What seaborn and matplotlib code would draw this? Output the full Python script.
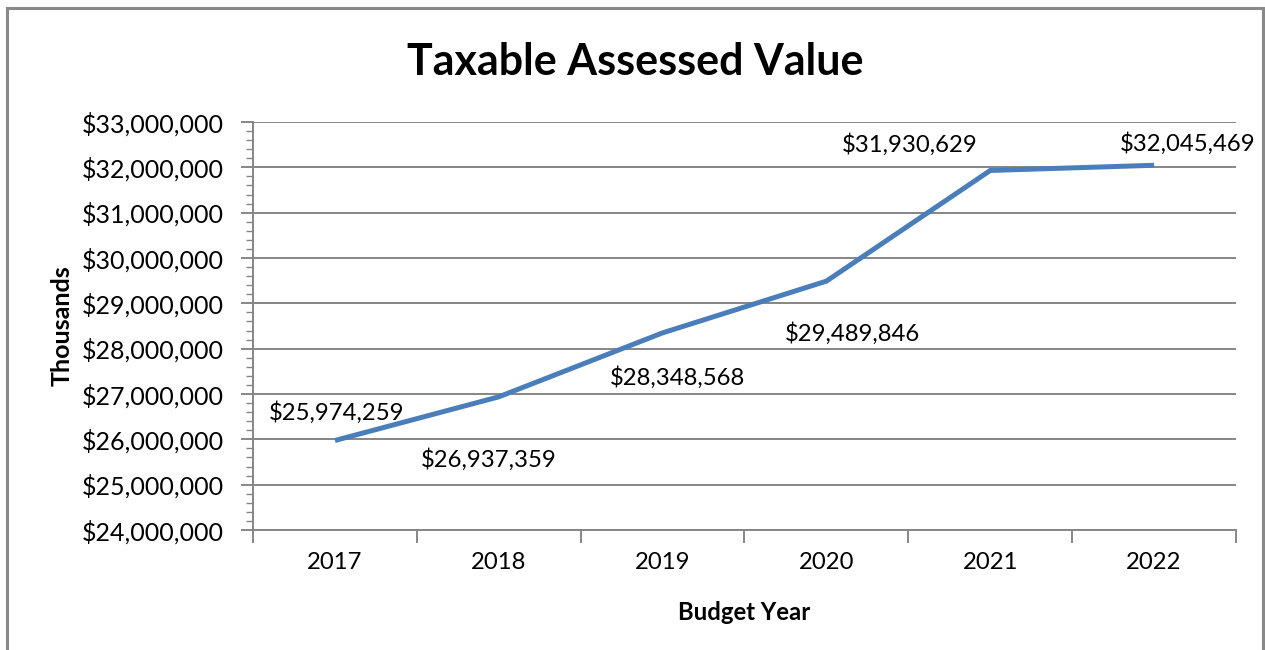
import matplotlib
matplotlib.use("Agg")
import matplotlib.pyplot as plt
from matplotlib.patches import Rectangle
from matplotlib.ticker import FuncFormatter, MultipleLocator, FixedLocator
import seaborn as sns
import pandas as pd

years = ["2017", "2018", "2019", "2020", "2021", "2022"]
values = [25974259, 26937359, 28348568, 29489846, 31930629, 32045469]
# label offsets (pixels) relative to each point
label_dx = [2, -10, 15, 26, -81, 34]
label_dy = [28, -63, -45, -52, 26, 22]

sns.set_theme(style="white")
plt.rcParams["font.family"] = ["Lato", "DejaVu Sans"]
plt.rcParams["text.color"] = "black"
plt.rcParams["axes.labelcolor"] = "black"
plt.rcParams["xtick.color"] = "black"
plt.rcParams["ytick.color"] = "black"

FS = 17.2

W, H = 1265, 650
fig = plt.figure(figsize=(W / 100, H / 100), dpi=100)
ax = fig.add_axes([253 / W, 1 - 530 / H, (1236 - 253) / W, (530 - 122) / H])

df = pd.DataFrame({"pos": range(len(years)), "value": values})
sns.lineplot(data=df, x="pos", y="value", ax=ax, color="#4A7EBB", linewidth=3.6,
             solid_joinstyle="miter", solid_capstyle="butt")

ax.set_xlim(-0.5, len(years) - 0.5)
ax.set_ylim(24_000_000, 33_000_000)

grid_c = "#868686"
ax.yaxis.set_major_locator(MultipleLocator(1_000_000))
ax.yaxis.set_minor_locator(MultipleLocator(200_000))
ax.yaxis.set_major_formatter(FuncFormatter(lambda v, p: f"${v:,.0f}"))
ax.grid(axis="y", which="major", color=grid_c, linewidth=1.4)
ax.set_axisbelow(True)

# category labels centered, tick marks on category boundaries
ax.xaxis.set_major_locator(FixedLocator([i - 0.5 for i in range(len(years) + 1)]))
ax.xaxis.set_major_formatter(FuncFormatter(lambda v, p: ""))
ax.xaxis.set_minor_locator(FixedLocator(list(range(len(years)))))
ax.set_xticklabels(years, minor=True)

ax.tick_params(axis="y", which="major", direction="out", length=9, width=1.4,
               color=grid_c, labelcolor="black", labelsize=18, pad=12, left=True)
ax.tick_params(axis="y", which="minor", direction="out", length=5, width=1.0,
               color=grid_c, left=True)
ax.tick_params(axis="x", which="major", direction="out", length=9, width=1.4,
               color=grid_c, bottom=True)
ax.tick_params(axis="x", which="minor", length=0, labelsize=FS, labelcolor="black", pad=16)

for s in ["top", "right"]:
    ax.spines[s].set_visible(False)
for s in ["left", "bottom"]:
    ax.spines[s].set_color(grid_c)
    ax.spines[s].set_linewidth(1.4)

ax.set_xlabel("Budget Year", fontsize=FS, fontweight="bold", labelpad=20, color="black")
ax.set_ylabel("Thousands", fontsize=18, fontweight="bold", labelpad=6, color="black")

for i, v in enumerate(values):
    ax.annotate(f"${v:,.0f}", (i, v), xytext=(label_dx[i], label_dy[i]),
                textcoords="offset pixels", ha="center", va="center",
                fontsize=FS, color="black")

fig.text(635 / W, 1 - 62 / H, "Taxable Assessed Value", ha="center", va="center",
         fontsize=31, fontweight="bold", color="black")

# chart frame
fig.patches.append(Rectangle((7 / W, -0.05), (1263 - 7) / W, 1.05 - 8 / H,
                             transform=fig.transFigure, fill=False,
                             edgecolor="#898989", linewidth=2.2))

fig.savefig("out.png", dpi=100)
